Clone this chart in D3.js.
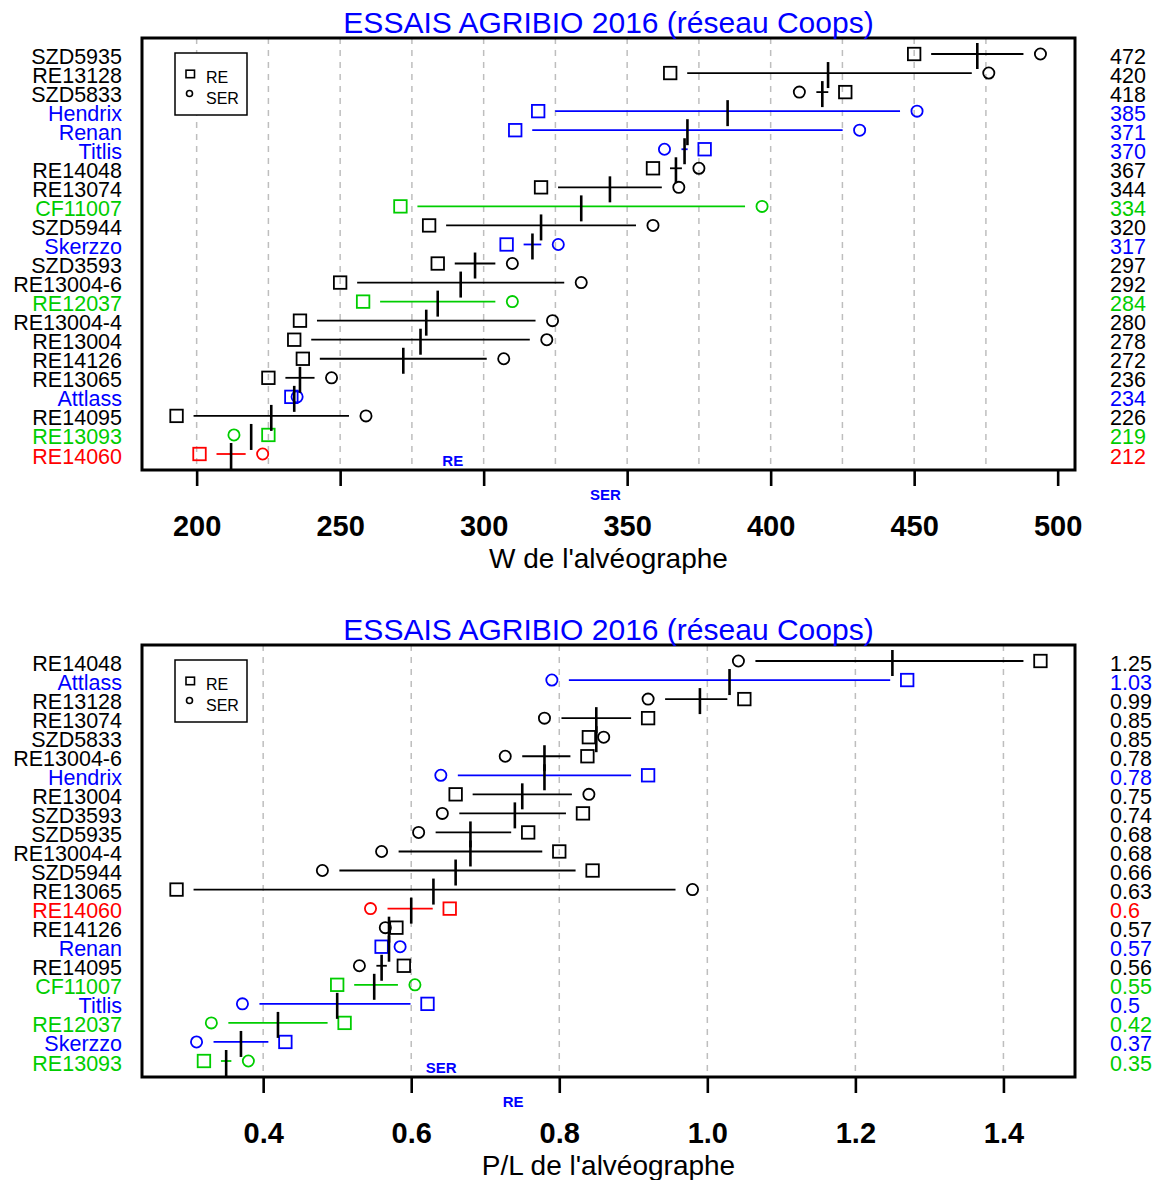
<!DOCTYPE html>
<html>
<head>
<meta charset="utf-8">
<script src="https://cdn.jsdelivr.net/npm/d3@7"></script>
<style>
  html, body { margin: 0; padding: 0; background: #fff; }
  svg { display: block; font-family: "Liberation Sans", Arial, Helvetica, sans-serif; }
</style>
</head>
<body>
<svg id="chart" width="1156" height="1180"></svg>
<script>
// ---- W de l'alvéographe ----
const varietiesW = ["SZD5935","RE13128","SZD5833","Hendrix","Renan","Titlis","RE14048","RE13074","CF11007","SZD5944","Skerzzo","SZD3593","RE13004-6","RE12037","RE13004-4","RE13004","RE14126","RE13065","Attlass","RE14095","RE13093","RE14060"];
const groupsW    = ["lignée","lignée","lignée","témoin","témoin","témoin","lignée","lignée","groupe2","lignée","témoin","lignée","lignée","groupe2","lignée","lignée","lignée","lignée","témoin","lignée","groupe2","groupe3"];
const reW   = [450,365,426,319,311,377,359,320,271,281,308,284,250,258,236,234,237,225,233,193,225,201];
const serW  = [494,476,410,451,431,363,375,368,397,359,326,310,334,310,324,322,307,247,235,259,213,223];
const meanW = [472,420,418,385,371,370,367,344,334,320,317,297,292,284,280,278,272,236,234,226,219,212];
const ticksW = [200,250,300,350,400,450,500];
const gridW  = [200,225,250,275,300,325,350,375,400,425,450,475];

// ---- P/L de l'alvéographe ----
const varietiesPL = ["RE14048","Attlass","RE13128","RE13074","SZD5833","RE13004-6","Hendrix","RE13004","SZD3593","SZD5935","RE13004-4","SZD5944","RE13065","RE14060","RE14126","Renan","RE14095","CF11007","Titlis","RE12037","Skerzzo","RE13093"];
const groupsPL    = ["lignée","témoin","lignée","lignée","lignée","lignée","témoin","lignée","lignée","lignée","lignée","lignée","lignée","groupe3","lignée","témoin","lignée","groupe2","témoin","groupe2","témoin","groupe2"];
const rePL   = [1.45,1.27,1.05,0.92,0.84,0.838,0.92,0.66,0.832,0.758,0.80,0.845,0.283,0.652,0.58,0.56,0.59,0.50,0.622,0.51,0.43,0.32];
const serPL  = [1.042,0.79,0.92,0.78,0.86,0.727,0.64,0.84,0.642,0.61,0.56,0.48,0.98,0.545,0.565,0.585,0.53,0.605,0.372,0.33,0.31,0.38];
const meanPL = [1.25,1.03,0.99,0.85,0.85,0.78,0.78,0.75,0.74,0.68,0.68,0.66,0.63,0.6,0.57,0.57,0.56,0.55,0.5,0.42,0.37,0.35];
const ticksPL = [0.4,0.6,0.8,1.0,1.2,1.4];
const gridPL  = [0.4,0.6,0.8,1.0,1.2,1.4];

const titleText = "ESSAIS AGRIBIO 2016 (réseau Coops)";
const seriesNames = ["RE","SER"];

const groupColor = { "lignée": "#000000", "témoin": "#0000FF", "groupe2": "#00CD00", "groupe3": "#FF0000" };

const svg = d3.select("#chart");
svg.append("rect").attr("width",1156).attr("height",1180).attr("fill","#fff");

function panel(opt) {
  const left = 142, right = 1075, top = opt.top, bottom = opt.top + 432;
  const g = svg.append("g");
  const n = opt.names.length;

  // R-style axis extension: 4% on each side
  const all = opt.re.concat(opt.ser);
  const lo = d3.min(all), hi = d3.max(all), pad = (hi - lo) * 0.04;
  const x = d3.scaleLinear().domain([lo - pad, hi + pad]).range([left, right]);
  const yPad = (n - 1) * 0.04;
  const y = d3.scaleLinear().domain([1 - yPad, n + yPad]).range([bottom, top]);
  const rowY = i => y(n - i);

  // dashed grid
  g.selectAll("line.grid").data(opt.grid).join("line")
    .attr("x1", d => x(d)).attr("x2", d => x(d))
    .attr("y1", top).attr("y2", bottom)
    .attr("stroke", "#BEBEBE").attr("stroke-width", 1.5)
    .attr("stroke-dasharray", "6,6");

  const rows = opt.names.map((name, i) => ({
    name, i, col: groupColor[opt.groups[i]],
    re: opt.re[i], ser: opt.ser[i], mean: opt.mean[i]
  }));

  // connecting segment between the two sites, kept clear of the markers
  const gap = 17;
  g.selectAll("line.seg").data(rows.filter(d => Math.abs(x(d.ser) - x(d.re)) > 2 * gap)).join("line")
    .attr("x1", d => x(d.re) + gap * Math.sign(x(d.ser) - x(d.re)))
    .attr("x2", d => x(d.ser) - gap * Math.sign(x(d.ser) - x(d.re)))
    .attr("y1", d => rowY(d.i)).attr("y2", d => rowY(d.i))
    .attr("stroke", d => d.col).attr("stroke-width", 1.8);

  // RE squares
  const s = 12.5;
  g.selectAll("rect.re").data(rows).join("rect")
    .attr("x", d => x(d.re) - s / 2).attr("y", d => rowY(d.i) - s / 2)
    .attr("width", s).attr("height", s)
    .attr("fill", "none").attr("stroke", d => d.col).attr("stroke-width", 1.8);

  // SER circles
  g.selectAll("circle.ser").data(rows).join("circle")
    .attr("cx", d => x(d.ser)).attr("cy", d => rowY(d.i)).attr("r", 5.6)
    .attr("fill", "none").attr("stroke", d => d.col).attr("stroke-width", 1.8);

  // mean tick
  g.selectAll("line.mean").data(rows).join("line")
    .attr("x1", d => x(d.mean)).attr("x2", d => x(d.mean))
    .attr("y1", d => rowY(d.i) - 11).attr("y2", d => rowY(d.i) + 15)
    .attr("stroke", "#000").attr("stroke-width", 2.6);

  // variety names (left) and means (right)
  g.selectAll("text.name").data(rows).join("text")
    .attr("x", 122).attr("y", d => rowY(d.i) + 9.5)
    .attr("text-anchor", "end").attr("font-size", 21.5)
    .attr("fill", d => d.col).text(d => d.name);
  g.selectAll("text.val").data(rows).join("text")
    .attr("x", 1110).attr("y", d => rowY(d.i) + 9.5)
    .attr("text-anchor", "start").attr("font-size", 21.5)
    .attr("fill", d => d.col).text(d => String(d.mean));

  // frame
  g.append("rect").attr("x", left).attr("y", top)
    .attr("width", right - left).attr("height", bottom - top)
    .attr("fill", "none").attr("stroke", "#000").attr("stroke-width", 3);

  // x axis
  const axis = d3.axisBottom(x).tickValues(opt.ticks).tickSize(16).tickPadding(20)
    .tickFormat(opt.fmt);
  const ax = g.append("g").attr("transform", `translate(0,${bottom})`).call(axis);
  ax.select(".domain").remove();
  ax.selectAll(".tick line").attr("stroke", "#000").attr("stroke-width", 2.6);
  ax.selectAll(".tick text")
    .attr("font-size", 29).attr("font-weight", "bold")
    .attr("font-family", "'Liberation Sans', Arial, sans-serif")
    .attr("fill", "#000").attr("dy", null).attr("y", 65.5);

  g.append("text").attr("x", (left + right) / 2).attr("y", bottom + 98)
    .attr("text-anchor", "middle").attr("font-size", 28).text(opt.xlab);

  // title
  g.append("text").attr("x", (left + right) / 2).attr("y", top - 5.5)
    .attr("text-anchor", "middle").attr("font-size", 30)
    .attr("fill", "#0000FF").text(titleText);

  // site averages marked under the axis; the lower one sits inside the frame
  const siteMeans = [
    { name: seriesNames[0], m: d3.mean(opt.re) },
    { name: seriesNames[1], m: d3.mean(opt.ser) }
  ].sort((a, b) => a.m - b.m);
  g.selectAll("text.site").data(siteMeans).join("text")
    .attr("x", d => x(d.m))
    .attr("y", (d, k) => k === 0 ? bottom - 4.5 : bottom + 29.5)
    .attr("text-anchor", "middle").attr("font-size", 15).attr("font-weight", "bold")
    .attr("fill", "#0000FF").text(d => d.name);

  // legend
  const lx = 175, ly = top + 15;
  const lg = g.append("g");
  lg.append("rect").attr("x", lx).attr("y", ly).attr("width", 72).attr("height", 62)
    .attr("fill", "#fff").attr("stroke", "#000").attr("stroke-width", 1.5);
  lg.append("rect").attr("x", lx + 11).attr("y", ly + 21 - 3.8).attr("width", 8.5).attr("height", 7.5)
    .attr("fill", "none").attr("stroke", "#000").attr("stroke-width", 1.6);
  lg.append("circle").attr("cx", lx + 14.5).attr("cy", ly + 40.5).attr("r", 3)
    .attr("fill", "none").attr("stroke", "#000").attr("stroke-width", 1.6);
  lg.append("text").attr("x", lx + 31).attr("y", ly + 30).attr("font-size", 16).text(seriesNames[0]);
  lg.append("text").attr("x", lx + 31).attr("y", ly + 51).attr("font-size", 16).text(seriesNames[1]);
}

panel({
  top: 38, names: varietiesW, groups: groupsW, re: reW, ser: serW, mean: meanW,
  ticks: ticksW, grid: gridW, fmt: d3.format("d"), xlab: "W de l'alvéographe"
});
panel({
  top: 645, names: varietiesPL, groups: groupsPL, re: rePL, ser: serPL, mean: meanPL,
  ticks: ticksPL, grid: gridPL, fmt: d3.format(".1f"), xlab: "P/L de l'alvéographe"
});
</script>
</body>
</html>
